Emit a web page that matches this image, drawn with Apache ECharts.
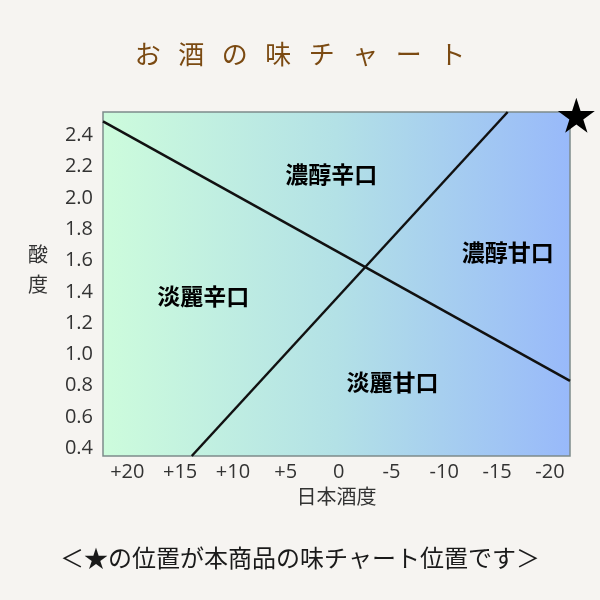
<!DOCTYPE html>
<html>
<head>
<meta charset="utf-8">
<script src="https://cdn.jsdelivr.net/npm/echarts@6/dist/echarts.min.js"></script>
<style>
  html, body { margin: 0; padding: 0; background: #f6f4f1; }
  #chart { width: 600px; height: 600px; }
</style>
</head>
<body>
<div id="chart"></div>
<script>
// 日本酒度 (x, reversed) / 酸度 (y)
let xRange = [-21.9, 22.3];
let yRange = [0.35, 2.55];

// dividing lines
let lineRich = [[22.3, 2.49], [-21.9, 0.83]];
let lineSweet = [[13.9, 0.35], [-16.0, 2.55]];

// region names and where they sit
let regionNames = ['濃醇辛口', '濃醇甘口', '淡麗辛口', '淡麗甘口'];
let regionX = [0.7, -16.0, 12.8, -5.1];
let regionY = [2.15, 1.65, 1.37, 0.82];

// this product
let productPos = [-22.5, 2.53];

let starPath = 'path://M50,0 L61,35 L98,35 L68,57 L79,91 L50,70 L21,91 L32,57 L2,35 L39,35 Z';
let cjk = '"Noto Sans CJK JP", sans-serif';
let num = '"Open Sans", "Noto Sans", sans-serif';

let chart = echarts.init(document.getElementById('chart'), null, { renderer: 'canvas' });

let options = {
  backgroundColor: '#f6f4f1',
  animation: false,
  title: [
    {
      text: 'お   酒   の   味   チ   ャ   ー   ト',
      left: 'center',
      top: 36,
      textStyle: { fontFamily: cjk, fontSize: 26, fontWeight: 'normal', color: '#7b4a12' },
    },
    {
      text: '＜★の位置が本商品の味チャート位置です＞',
      left: 'center',
      top: 541,
      textStyle: { fontFamily: cjk, fontSize: 24, fontWeight: 'normal', color: '#1a1a1a' },
    },
  ],
  grid: {
    left: 103,
    top: 112,
    width: 467,
    height: 344,
    show: true,
    borderColor: '#7d8b8b',
    borderWidth: 1.5,
    backgroundColor: new echarts.graphic.LinearGradient(0, 0, 1, 0, [
      { offset: 0, color: '#cdfcdc' },
      { offset: 0.5, color: '#b3e1e6' },
      { offset: 1, color: '#98b9fa' },
    ]),
  },
  xAxis: {
    type: 'value',
    inverse: true,
    min: xRange[0],
    max: xRange[1],
    splitNumber: 9,
    name: '日本酒度',
    nameLocation: 'middle',
    nameGap: 28,
    nameTextStyle: { fontFamily: cjk, fontSize: 20, color: '#333' },
    axisLine: { show: false },
    axisTick: { show: false },
    splitLine: { show: false },
    axisLabel: {
      showMinLabel: false,
      showMaxLabel: false,
      margin: 6,
      fontFamily: num,
      fontSize: 20,
      color: '#333',
      formatter: (v) => (Math.abs(v % 5) > 0.01 ? '' : v > 0 ? '+' + v : String(v)),
    },
  },
  yAxis: {
    type: 'value',
    min: yRange[0],
    max: yRange[1],
    splitNumber: 11,
    // trailing blank line lifts the two characters above the middle
    name: '酸\n度\n ',
    nameLocation: 'middle',
    nameRotate: 0,
    nameGap: 55,
    nameTextStyle: { fontFamily: cjk, fontSize: 20, lineHeight: 30, color: '#333' },
    axisLine: { show: false },
    axisTick: { show: false },
    splitLine: { show: false },
    axisLabel: {
      showMinLabel: false,
      showMaxLabel: false,
      margin: 10,
      fontFamily: num,
      fontSize: 20,
      color: '#333',
      formatter: (v) => {
        let r = Math.round(v * 5) / 5;
        return Math.abs(r - v) > 0.001 ? '' : r.toFixed(1);
      },
    },
  },
  series: [
    {
      type: 'line',
      data: lineRich,
      symbol: 'none',
      lineStyle: { color: '#111', width: 2.5 },
    },
    {
      type: 'line',
      data: lineSweet,
      symbol: 'none',
      lineStyle: { color: '#111', width: 2.5 },
    },
    {
      type: 'scatter',
      symbolSize: 0,
      itemStyle: { opacity: 1 },
      data: regionNames.map((n, i) => ({ name: n, value: [regionX[i], regionY[i]] })),
      label: {
        show: true,
        position: 'inside',
        formatter: '{b}',
        fontFamily: cjk,
        fontSize: 23,
        fontWeight: 'bold',
        color: '#000',
      },
    },
    {
      type: 'scatter',
      clip: false,
      symbol: starPath,
      symbolSize: [37, 35],
      itemStyle: { color: '#000', opacity: 1 },
      data: [productPos],
    },
  ],
};

chart.setOption(options);
</script>
</body>
</html>
